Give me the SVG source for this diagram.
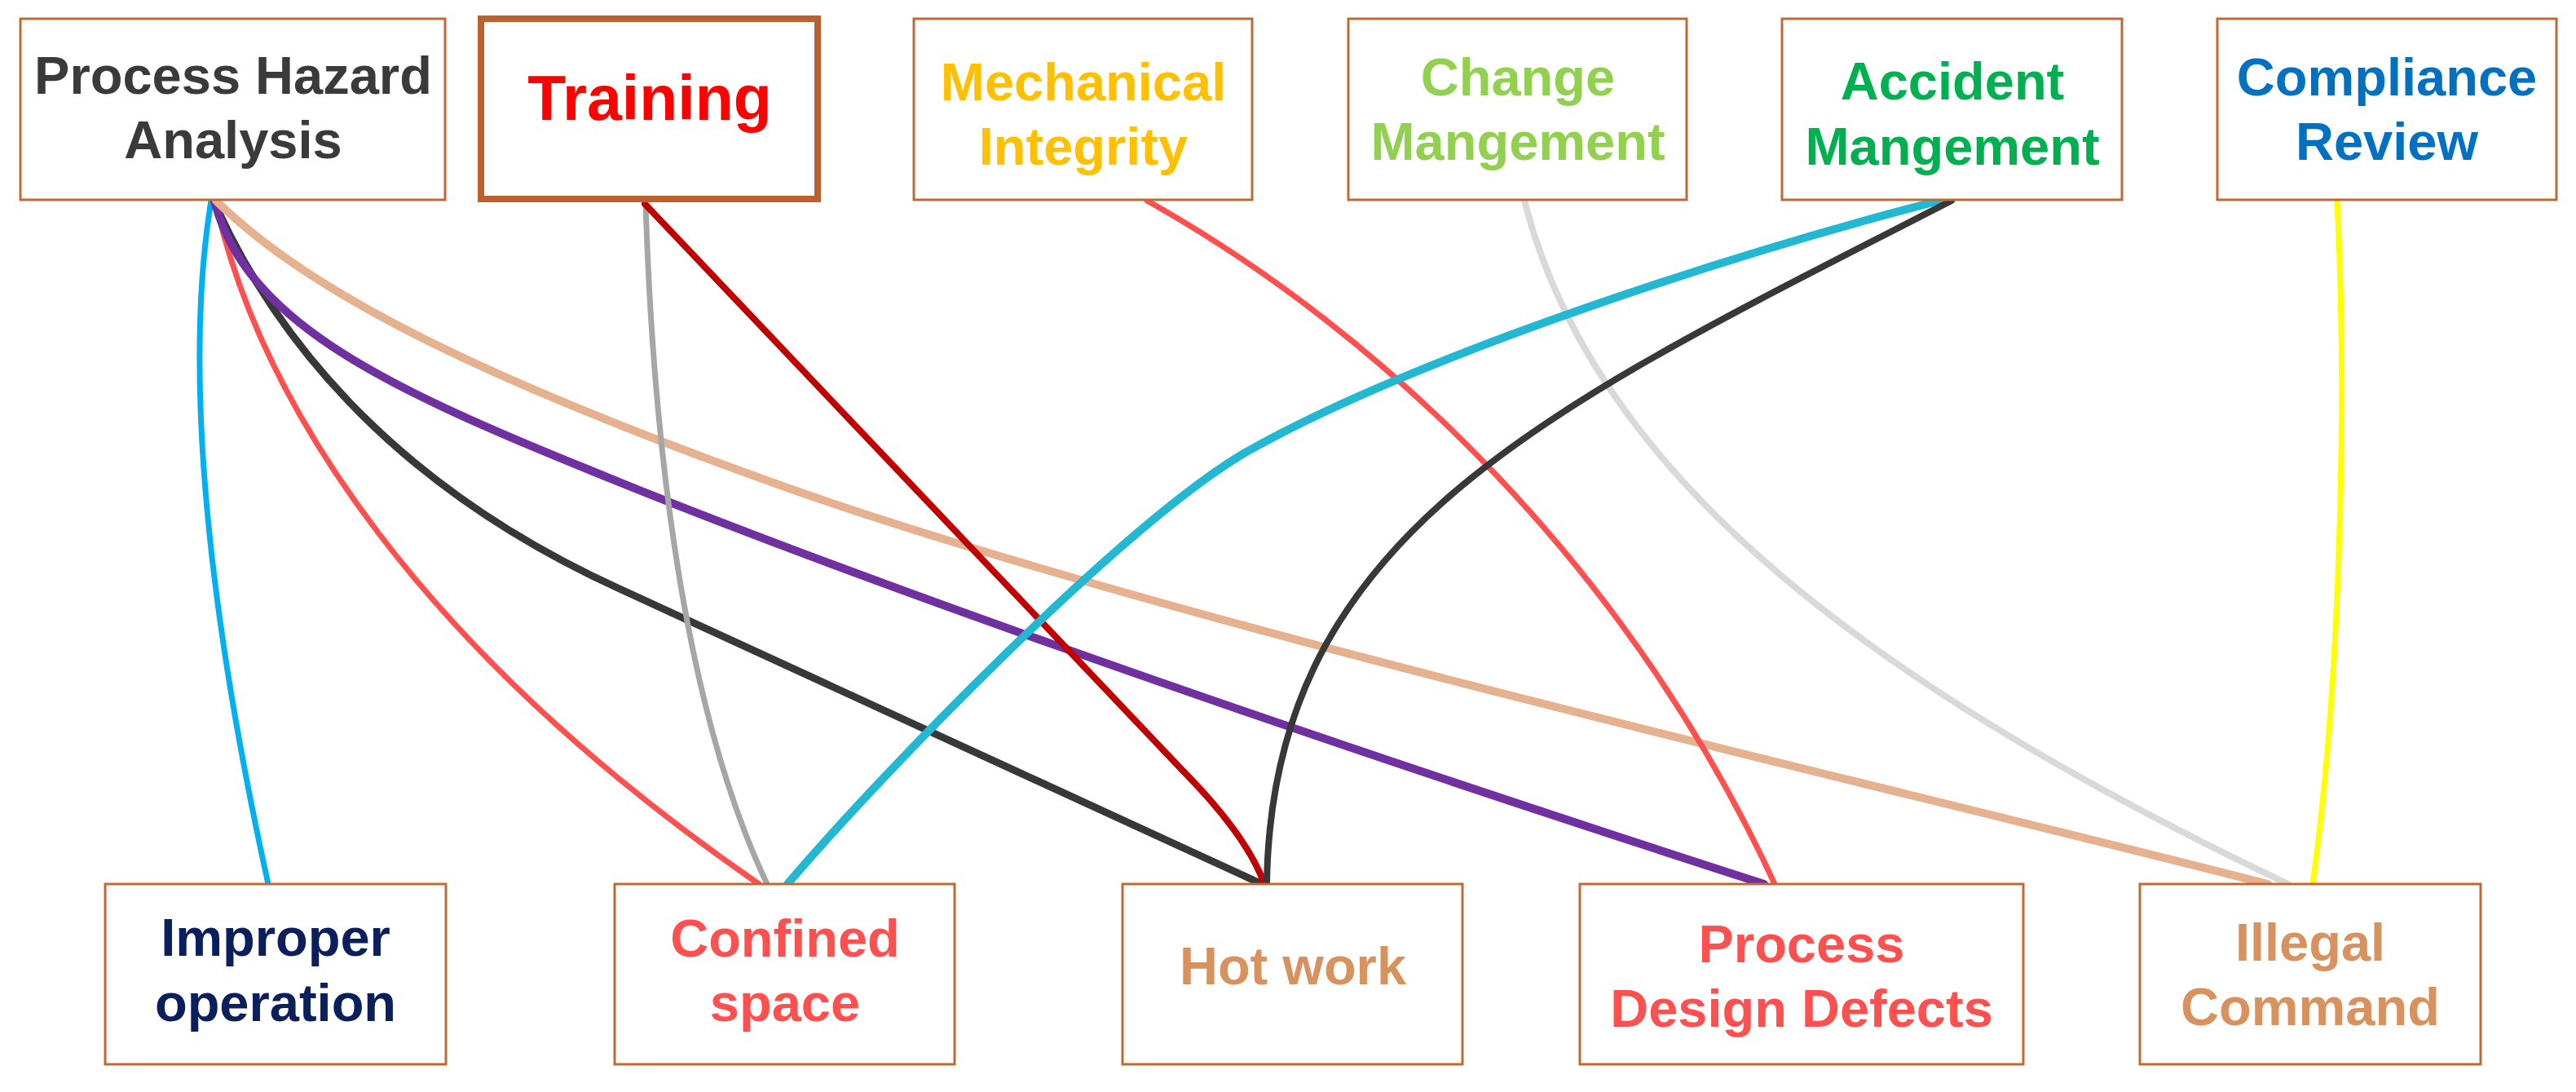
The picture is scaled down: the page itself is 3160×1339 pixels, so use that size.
<svg xmlns="http://www.w3.org/2000/svg" width="3160" height="1339" viewBox="0 0 3160 1339">
<style>
.box{fill:#FFFFFF;stroke:#BF6A35;stroke-width:3}
.boxb{fill:#FFFFFF;stroke:#B9612F;stroke-width:8}
text{font-family:"Liberation Sans",Arial,sans-serif;font-weight:bold;font-size:65px;text-anchor:middle}
.c{fill:none;stroke-linecap:round}
</style>
<rect width="3160" height="1339" fill="#FFFFFF"/>
<g id="connectors">
<path class="c" d="M259,246 C222,470 262,780 329,1084" stroke="#00B0F0" stroke-width="7"/>
<path class="c" d="M264,246 C320,500 520,800 931,1084" stroke="#FF5050" stroke-width="7"/>
<path class="c" d="M262,246 C330,400 470,590 760,722 L1548,1084" stroke="#383838" stroke-width="9"/>
<path class="c" d="M263,246 C300,390 460,470 720,575 C1000,690 1500,870 2164,1084" stroke="#7030A0" stroke-width="10"/>
<path class="c" d="M265,246 C380,360 600,470 1000,610 C1500,780 2300,960 2782,1084" stroke="#E6B18E" stroke-width="10"/>
<path class="c" d="M792,250 C800,500 830,850 941,1084" stroke="#A6A6A6" stroke-width="7"/>
<path class="c" d="M791,250 L1450,944 Q1530,1025 1551,1084" stroke="#C00000" stroke-width="8"/>
<path class="c" d="M1407,246 C1700,410 2000,700 2177,1084" stroke="#FF5050" stroke-width="7"/>
<path class="c" d="M1870,246 C1950,560 2250,820 2807,1084" stroke="#D9D9D9" stroke-width="8"/>
<path class="c" d="M2379,246 C2150,305 1750,430 1531,553 C1380,640 1080,950 966,1084" stroke="#22B8D2" stroke-width="10"/>
<path class="c" d="M2394,246 C1900,500 1560,650 1554,1084" stroke="#383838" stroke-width="8"/>
<path class="c" d="M2867,246 C2880,500 2870,850 2837,1084" stroke="#FFFF00" stroke-width="7"/>
</g>
<g id="pha"><rect class="box" x="25" y="23" width="521" height="222"/><text x="286" y="115" fill="#3A3A3A">Process Hazard</text><text x="286" y="194" fill="#3A3A3A">Analysis</text></g>
<g id="training"><rect class="boxb" x="590" y="23" width="413" height="221"/><text x="797" y="147" fill="#FF0000" style="font-size:77px">Training</text></g>
<g id="mechanical"><rect class="box" x="1121" y="23" width="415" height="222"/><text x="1329" y="123" fill="#FFC000">Mechanical</text><text x="1329" y="202" fill="#FFC000">Integrity</text></g>
<g id="change"><rect class="box" x="1654" y="23" width="415" height="222"/><text x="1862" y="117" fill="#92D050">Change</text><text x="1862" y="196" fill="#92D050">Mangement</text></g>
<g id="accident"><rect class="box" x="2186" y="23" width="417" height="222"/><text x="2395" y="122" fill="#00B050">Accident</text><text x="2395" y="202" fill="#00B050">Mangement</text></g>
<g id="compliance"><rect class="box" x="2720" y="23" width="416" height="222"/><text x="2928" y="117" fill="#0070C0">Compliance</text><text x="2928" y="196" fill="#0070C0">Review</text></g>
<g id="improper"><rect class="box" x="129" y="1084" width="418" height="221"/><text x="338" y="1172" fill="#0A1F5C">Improper</text><text x="338" y="1252" fill="#0A1F5C">operation</text></g>
<g id="confined"><rect class="box" x="754" y="1084" width="417" height="221"/><text x="963" y="1173" fill="#FF5050">Confined</text><text x="963" y="1252" fill="#FF5050">space</text></g>
<g id="hotwork"><rect class="box" x="1377" y="1084" width="417" height="221"/><text x="1586" y="1207" fill="#D8925E">Hot work</text></g>
<g id="pdd"><rect class="box" x="1938" y="1084" width="544" height="221"/><text x="2210" y="1180" fill="#FF5050">Process</text><text x="2210" y="1259" fill="#FF5050">Design Defects</text></g>
<g id="illegal"><rect class="box" x="2625" y="1084" width="418" height="221"/><text x="2834" y="1178" fill="#D8925E">Illegal</text><text x="2834" y="1257" fill="#D8925E">Command</text></g>
</svg>
